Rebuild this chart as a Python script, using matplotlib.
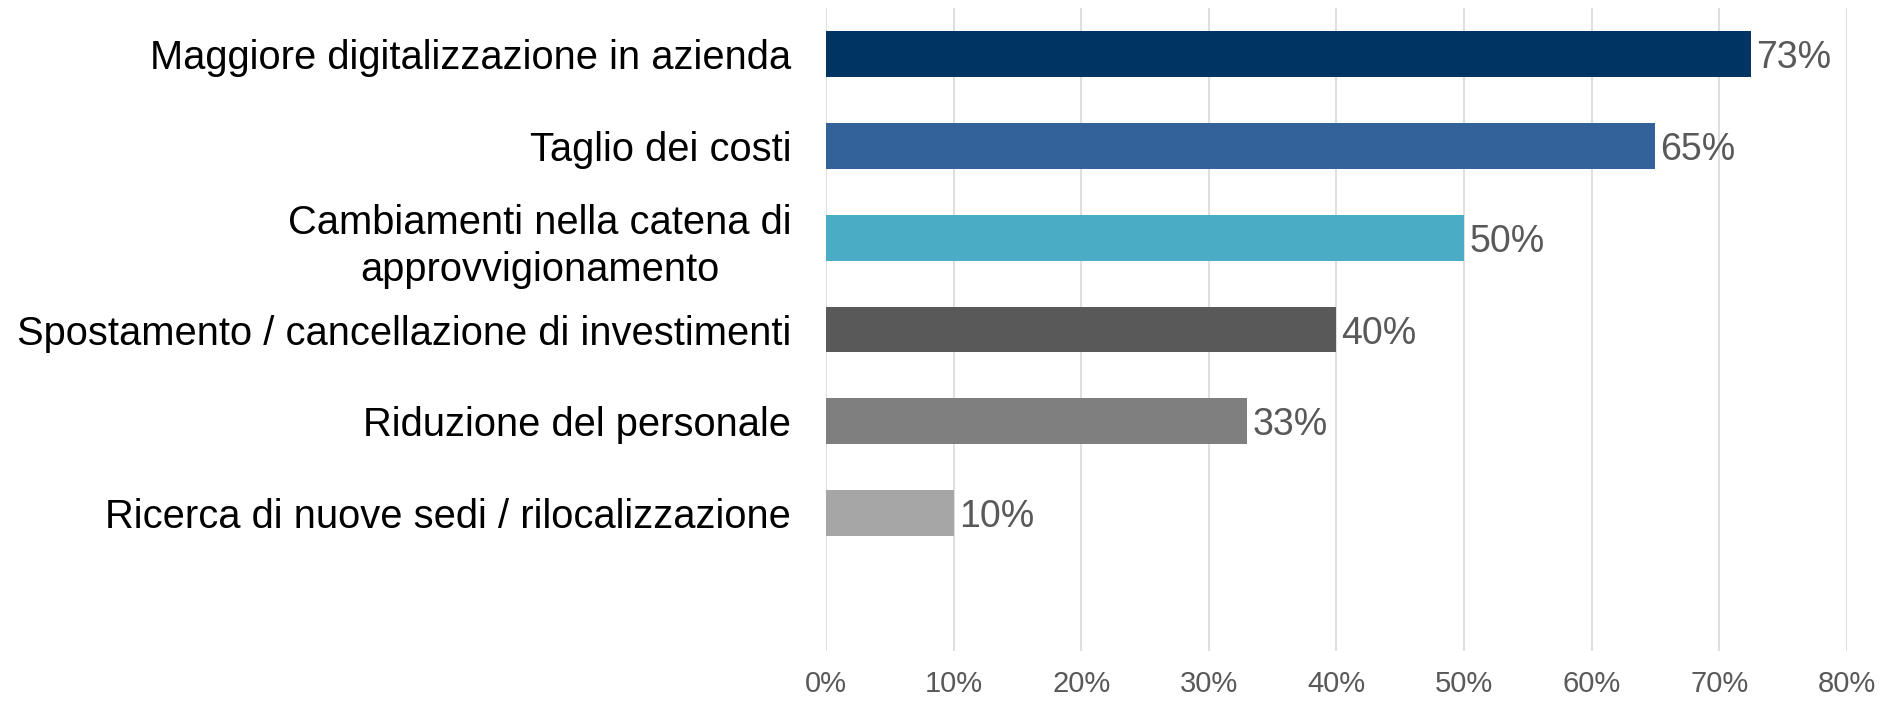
import matplotlib
matplotlib.use("Agg")
import matplotlib.pyplot as plt
from matplotlib.ticker import FuncFormatter

plt.rcParams['font.family'] = ['Liberation Sans', 'DejaVu Sans']

categories = [
    "Maggiore digitalizzazione in azienda",
    "Taglio dei costi",
    "Cambiamenti nella catena di\napprovvigionamento",
    "Spostamento / cancellazione di investimenti",
    "Riduzione del personale",
    "Ricerca di nuove sedi / rilocalizzazione",
]
values = [72.5, 65, 50, 40, 33, 10]
value_labels = ["73%", "65%", "50%", "40%", "33%", "10%"]
colors = ["#003462", "#336199", "#4BACC6", "#595959", "#7F7F7F", "#A6A6A6"]
xticks = [0, 10, 20, 30, 40, 50, 60, 70, 80]

fig = plt.figure(figsize=(18.85, 7.01), dpi=100)
ax = fig.add_axes([0.4382, 0.0713, 0.5415, 0.9173])

ypos = list(range(len(categories)))
ax.barh(ypos, values, height=0.5, color=colors, zorder=2)
for y, v, lab in zip(ypos, values, value_labels):
    ax.text(v + 0.4, y, lab, va="center_baseline", ha="left", fontsize=27, color="#595959")

ax.set_ylim(6.5, -0.5)
ax.set_xlim(0, 80)
ax.set_yticks(ypos)
ax.set_yticklabels(categories, fontsize=28.7, color="black",
                   multialignment="center", linespacing=1.3)
ax.set_xticks(xticks)
ax.xaxis.set_major_formatter(FuncFormatter(lambda x, p: f"{x:.0f}%"))
ax.tick_params(axis="x", labelsize=21, colors="#595959", length=0, pad=14)
ax.tick_params(axis="y", length=0, pad=25)
ax.grid(axis="x", color="#D9D9D9", linewidth=1.2, zorder=0)
for s in ax.spines.values():
    s.set_visible(False)

fig.savefig("out.png", dpi=100)
